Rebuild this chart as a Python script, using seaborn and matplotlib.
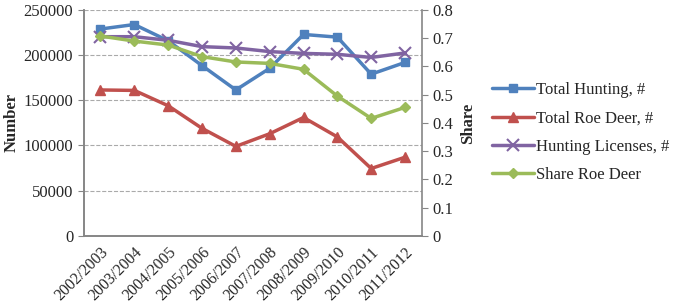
import matplotlib
matplotlib.use("Agg")
import matplotlib.pyplot as plt
import seaborn as sns
import pandas as pd
import numpy as np
from matplotlib.lines import Line2D

seasons = ["2002/2003", "2003/2004", "2004/2005", "2005/2006", "2006/2007",
           "2007/2008", "2008/2009", "2009/2010", "2010/2011", "2011/2012"]
total_hunting = [229000, 234000, 216000, 188500, 161500, 185500, 223000, 220000, 179000, 192000]
total_roe_deer = [161500, 161000, 144000, 119000, 99000, 113000, 131000, 109500, 74500, 87000]
hunting_licenses = [220500, 220500, 216500, 209500, 208000, 204000, 202000, 201000, 197500, 202500]
share_roe_deer = [0.708, 0.690, 0.676, 0.635, 0.616, 0.611, 0.590, 0.495, 0.416, 0.455]

sns.set_style("white")
plt.rcParams['font.family'] = ['Liberation Serif', 'DejaVu Serif']

df = pd.DataFrame({"season": seasons, "Total Hunting, #": total_hunting,
                   "Total Roe Deer, #": total_roe_deer,
                   "Hunting Licenses, #": hunting_licenses,
                   "Share Roe Deer": share_roe_deer})
df["x"] = np.arange(len(seasons))

fig = plt.figure(figsize=(6.85, 3.05), dpi=100)
ax = fig.add_axes([0.122, 0.227, 0.494, 0.740])
ax2 = ax.twinx()

styles = [("Total Hunting, #", "#4F81BD", "s", 6, ax),
          ("Total Roe Deer, #", "#C0504D", "^", 7, ax),
          ("Hunting Licenses, #", "#8064A2", "x", 8, ax),
          ("Share Roe Deer", "#9BBB59", "D", 5, ax2)]
handles = []
for name, col, mk, ms, a in styles:
    sns.lineplot(data=df, x="x", y=name, ax=a, color=col, marker=mk, markersize=ms,
                 linewidth=2.5, markeredgecolor=col, markeredgewidth=1.5 if mk == "x" else 1,
                 legend=False)
    handles.append(Line2D([0], [0], color=col, marker=mk, markersize=ms, linewidth=2.5,
                          markeredgecolor=col, markeredgewidth=1.5 if mk == "x" else 1))

ax.set_xlim(-0.5, len(seasons) - 0.5)
ax.set_ylim(0, 250000)
ax.set_yticks(np.arange(0, 250001, 50000))
ax2.set_ylim(0, 0.8)
ax2.set_yticks(np.arange(0, 0.81, 0.1))
ax2.set_yticklabels(["0"] + [f"{v:.1f}" for v in np.arange(0.1, 0.81, 0.1)])

ax.set_xticks(np.arange(len(seasons)))
ax.set_xticklabels(seasons, rotation=45, ha="right", rotation_mode="anchor", fontsize=11.5)
ax.set_xticks(np.arange(-0.5, len(seasons), 1), minor=True)
ax.tick_params(axis="x", which="major", length=0, pad=6)
ax.tick_params(axis="x", which="minor", length=4, color="#868686", direction="out")
ax.tick_params(axis="y", length=4, color="#868686", direction="out", labelsize=12, left=True)
ax2.tick_params(axis="y", length=4, color="#868686", direction="out", labelsize=12, right=True)

ax.yaxis.grid(True, linestyle="--", color="#AAAAAA", linewidth=0.8)
ax.xaxis.grid(False)
ax2.grid(False)
for a in (ax, ax2):
    a.spines["top"].set_visible(False)
    for s in ("left", "right", "bottom"):
        a.spines[s].set_color("#868686")
        a.spines[s].set_linewidth(1.2)
ax.spines["right"].set_visible(False)

ax.set_xlabel("")
ax.set_ylabel("Number", fontsize=12, fontweight="bold", labelpad=3)
ax2.set_ylabel("Share", fontsize=12, fontweight="bold", labelpad=5)

fig.legend(handles, [s[0] for s in styles], loc="center left",
           bbox_to_anchor=(0.697, 0.565), frameon=False, fontsize=12,
           handlelength=2.5, handletextpad=0.1, labelspacing=0.74)

fig.savefig("out.png", dpi=100)
